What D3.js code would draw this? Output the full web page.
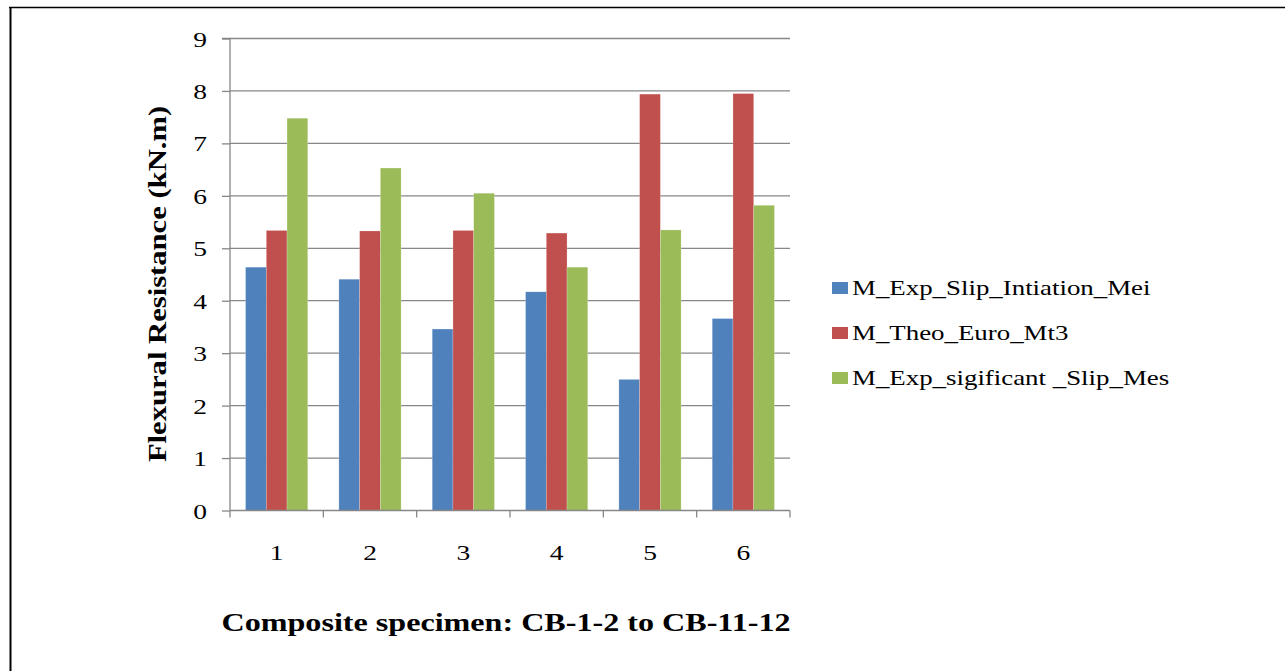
<!DOCTYPE html>
<html><head><meta charset="utf-8">
<script src="https://cdn.jsdelivr.net/npm/d3@7"></script>
<style>body{margin:0;background:#fff;} svg{display:block;} svg text{font-family:"Liberation Serif","Times New Roman",Times,"DejaVu Serif",serif;}</style>
</head><body>
<svg id="c" width="1285" height="671"></svg>
<script>
const categories = ["1","2","3","4","5","6"];
const seriesNames = ["M_Exp_Slip_Intiation_Mei","M_Theo_Euro_Mt3","M_Exp_sigificant _Slip_Mes"];
const mExpSlipInitiation = [4.64, 4.41, 3.46, 4.17, 2.50, 3.66];
const mTheoEuro = [5.34, 5.33, 5.34, 5.29, 7.94, 7.95];
const mExpSignificantSlip = [7.48, 6.53, 6.05, 4.64, 5.35, 5.82];
const yTicks = [0,1,2,3,4,5,6,7,8,9];
const colors = ["#4F81BD","#C0504D","#9BBB59"];
const seriesValues = [mExpSlipInitiation, mTheoEuro, mExpSignificantSlip];

const svg = d3.select("#c");
const font = '"Liberation Serif","Times New Roman",Times,"DejaVu Serif",serif';
const SX = 1.25; // text in the reference is wider along its reading direction

// frame
svg.append("line").attr("x1",9).attr("x2",1285).attr("y1",7.5).attr("y2",7.5).attr("stroke","#000").attr("stroke-width",1.5);
svg.append("line").attr("x1",10.5).attr("x2",10.5).attr("y1",7).attr("y2",671).attr("stroke","#000").attr("stroke-width",2);

const pL=230, pR=790, pT=38.5, pB=510.5;
const x = d3.scaleBand().domain(categories).range([pL,pR]).paddingInner(0).paddingOuter(0);
const y = d3.scaleLinear().domain([0,9]).range([pB,pT]);

// gridlines
svg.append("g").selectAll("line").data(yTicks.filter(d=>d>0)).join("line")
  .attr("x1",pL).attr("x2",pR).attr("y1",d=>y(d)).attr("y2",d=>y(d))
  .attr("stroke","#878787").attr("stroke-width",1.3);

// bars
const groupInner = d3.scaleBand().domain(d3.range(3)).range([0,x.bandwidth()]).paddingInner(0).paddingOuter(0.75);
seriesValues.forEach((vals,si)=>{
  svg.append("g").selectAll("rect").data(vals).join("rect")
    .attr("x",(d,i)=>x(categories[i])+groupInner(si))
    .attr("width",groupInner.bandwidth())
    .attr("y",d=>y(d)).attr("height",d=>pB-y(d))
    .attr("fill",colors[si]).attr("stroke","rgba(255,255,255,0.35)").attr("stroke-width",0.6);
});

// y axis
const yAxis = d3.axisLeft(y).tickValues(yTicks).tickSize(8).tickFormat(d3.format("d"));
const gy = svg.append("g").attr("transform",`translate(${pL},0)`).call(yAxis);
gy.attr("font-family",null).attr("font-size",null);
gy.select(".domain").attr("stroke","#878787").attr("stroke-width",1.3).attr("d",`M-8,${pT}H0V${pB}`);
gy.selectAll(".tick line").attr("stroke","#878787").attr("stroke-width",1.3);
gy.selectAll(".tick text").style("font-family",font).attr("font-size",22).attr("fill","#000")
  .attr("x",0).attr("dy",null).attr("y",7.5).attr("text-anchor","end")
  .attr("transform",`translate(-23,0) scale(${SX},1)`);

// x axis
const xAxis = d3.axisBottom(x).tickSize(0);
const gx = svg.append("g").attr("transform",`translate(0,${pB})`).call(xAxis);
gx.attr("font-family",null).attr("font-size",null);
gx.select(".domain").attr("stroke","#878787").attr("stroke-width",1.3).attr("d",`M${pL},0H${pR}`);
gx.selectAll(".tick text").style("font-family",font).attr("font-size",22).attr("fill","#000")
  .attr("y",0).attr("dy",null).attr("text-anchor","middle")
  .attr("transform",`translate(0,49) scale(${SX},1)`);
gx.append("g").selectAll("line").data(d3.range(categories.length+1)).join("line")
  .attr("x1",i=>pL+i*x.step()).attr("x2",i=>pL+i*x.step()).attr("y1",0).attr("y2",7)
  .attr("stroke","#878787").attr("stroke-width",1.3);

// axis titles
svg.append("text").attr("transform",`translate(166,284) rotate(-90) scale(${SX},1)`).attr("text-anchor","middle")
  .style("font-family",font).attr("font-weight","bold").attr("font-size",24.5).attr("fill","#000")
  .text("Flexural Resistance (kN.m)");
svg.append("text").attr("transform",`translate(506,631) scale(${SX},1)`).attr("text-anchor","middle")
  .style("font-family",font).attr("font-weight","bold").attr("font-size",25.7).attr("fill","#000")
  .text("Composite specimen: CB-1-2 to CB-11-12");

// legend
const lg = svg.append("g");
seriesNames.forEach((n,i)=>{
  const cy = 288 + i*45;
  lg.append("rect").attr("x",832).attr("y",cy-6).attr("width",16).attr("height",12).attr("fill",colors[i]);
  lg.append("text").attr("transform",`translate(852,${cy+7}) scale(${SX},1)`).style("font-family",font).attr("font-size",21.5).attr("fill","#000").text(n);
});
</script>
</body></html>
